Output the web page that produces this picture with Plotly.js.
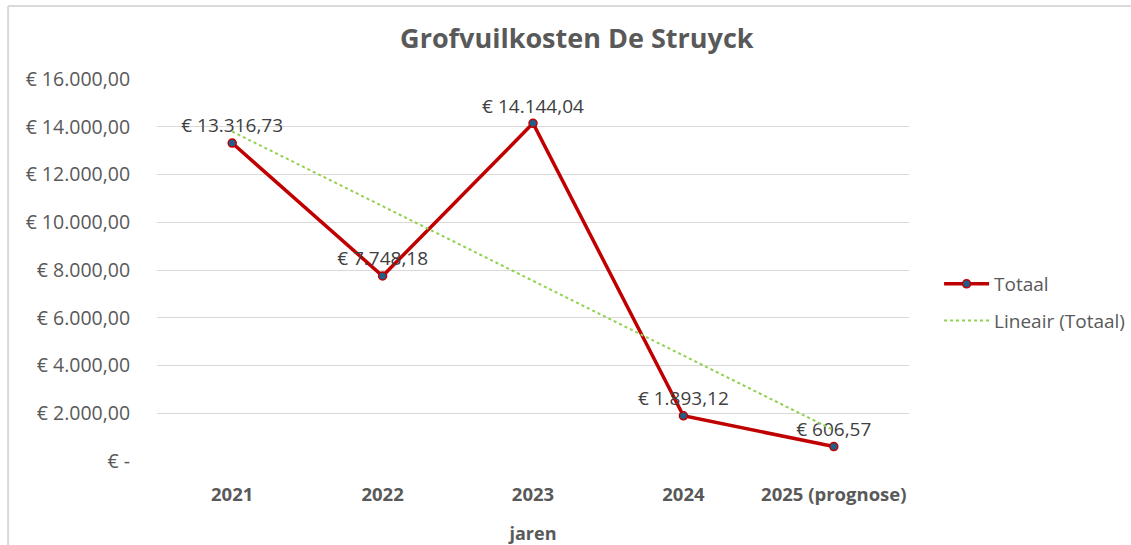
<!DOCTYPE html>
<html>
<head>
<meta charset="utf-8">
<script src="https://cdn.plot.ly/plotly-3.0.1.min.js"></script>
<style>html,body{margin:0;padding:0;background:#fff;}#chart{width:1131px;height:545px;}</style>
</head>
<body>
<div id="chart"></div>
<script>
const categories = ['2021', '2022', '2023', '2024', '2025 (prognose)'];
const totaal = [13316.73, 7748.18, 14144.04, 1893.12, 606.57];
const labels = ['€ 13.316,73', '€ 7.748,18', '€ 14.144,04', '€ 1.893,12', '€ 606,57'];
const trendCategories = ['2021', '2025 (prognose)'];
const trendValues = [13800, 1290];
const yTickVals = [0, 2000, 4000, 6000, 8000, 10000, 12000, 14000, 16000];
const yTickText = ['€ -', '€ 2.000,00', '€ 4.000,00', '€ 6.000,00', '€ 8.000,00', '€ 10.000,00', '€ 12.000,00', '€ 14.000,00', '€ 16.000,00'];

const font = '"Open Sans", Lato, sans-serif';
const grey = '#595959';

const traces = [
  {
    x: categories, y: totaal, name: 'Totaal', type: 'scatter', mode: 'lines+markers+text',
    legendgroup: 'a',
    line: {color: '#C00000', width: 3.5},
    marker: {size: 8, color: '#1F5F8B', line: {color: '#C00000', width: 1.5}},
    text: labels, textposition: 'top center',
    textfont: {family: font, size: 19, color: '#404040'},
    cliponaxis: false
  },
  {
    x: trendCategories, y: trendValues, name: 'Lineair (Totaal)', type: 'scatter', mode: 'lines',
    legendgroup: 'b',
    line: {color: '#92D050', width: 2, dash: 'dot'}
  }
];

const layout = {
  width: 1131, height: 545,
  margin: {l: 157, r: 222, t: 79, b: 84, autoexpand: false},
  paper_bgcolor: '#fff', plot_bgcolor: '#fff',
  title: {text: '<b>Grofvuilkosten De Struyck</b>', x: 0.51, xanchor: 'center', y: 0.93, yanchor: 'middle',
          font: {family: font, size: 27, color: grey}},
  font: {family: font, color: grey},
  xaxis: {
    type: 'category', range: [-0.5, 4.5], automargin: false,
    showgrid: false, zeroline: false, showline: false,
    ticks: 'outside', ticklen: 17, tickcolor: 'rgba(0,0,0,0)',
    tickfont: {family: font, size: 18.5, color: grey, weight: 'bold'},
    title: {text: '<b>jaren</b>', font: {family: font, size: 18, color: grey}, standoff: 22}
  },
  yaxis: {
    range: [0, 16000], tickvals: yTickVals, ticktext: yTickText, automargin: false,
    showgrid: true, gridcolor: '#D9D9D9', gridwidth: 1, zeroline: false, showline: false,
    tickfont: {family: font, size: 19.5, color: grey},
    ticks: 'outside', ticklen: 22, tickcolor: 'rgba(0,0,0,0)'
  },
  showlegend: true,
  legend: {x: 1.04, y: 0.415, xanchor: 'left', yanchor: 'middle', traceorder: 'grouped',
           font: {family: font, size: 19, color: grey}, tracegroupgap: 9, itemwidth: 45},
  shapes: [
    {type: 'line', xref: 'paper', yref: 'paper', x0: -0.198, x1: -0.198, y0: -0.25, y1: 1.191, line: {color: '#D9D9D9', width: 2}},
    {type: 'line', xref: 'paper', yref: 'paper', x0: -0.198, x1: 1.4, y0: 1.191, y1: 1.191, line: {color: '#D9D9D9', width: 2}}
  ]
};

Plotly.newPlot('chart', traces, layout, {displayModeBar: false, staticPlot: true});
</script>
</body>
</html>
